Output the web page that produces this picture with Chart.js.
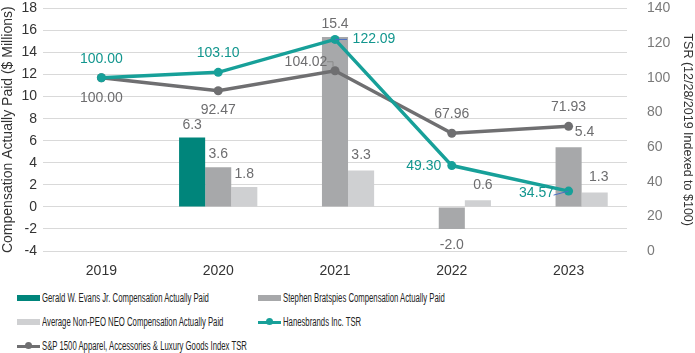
<!DOCTYPE html>
<html>
<head>
<meta charset="utf-8">
<script src="https://cdn.jsdelivr.net/npm/chart.js@4.4.1/dist/chart.umd.min.js"></script>
<style>
  body{margin:0;background:#fff;width:695px;height:353px;overflow:hidden;position:relative;font-family:"Liberation Sans",Arial,sans-serif;}
  #wrap{position:absolute;left:0;top:-12px;width:695px;height:292px;}
  #legend{position:absolute;left:0;top:286px;width:695px;height:67px;}
  .lg{position:absolute;height:14px;display:flex;align-items:center;font-size:12px;color:#222;white-space:nowrap;}
  .lg b{font-weight:normal;display:inline-block;transform:scaleX(0.645);transform-origin:left center;}
  .sw{width:23px;height:6px;margin-right:2px;position:relative;}
  .ln{width:23px;height:3px;margin-right:2px;position:relative;}
  .ln i{position:absolute;left:8px;top:-2.5px;width:7px;height:7px;border-radius:50%;}
</style>
</head>
<body>
<div id="wrap"><canvas id="chart" width="695" height="292"></canvas></div>
<div id="legend"></div>
<script>
// datos
const years = ['2019','2020','2021','2022','2023'];
const evansCAP = [null, 6.3, null, null, null];
const bratspiesCAP = [null, 3.6, 15.4, -2.0, 5.4];
const nonPeoCAP = [null, 1.8, 3.3, 0.6, 1.3];
const hbiTSR = [100.00, 103.10, 122.09, 49.30, 34.57];
const spTSR = [100.00, 92.47, 104.02, 67.96, 71.93];
const leftTicks = {min:-4, max:18, step:2};
const rightTicks = {min:0, max:140, step:20};

const teal = '#00857b', tealLine = '#17a099', grayBar = '#a7a8aa', lightBar = '#cfd0d2', grayLine = '#6f6f71';
const FONT = '"Liberation Sans", Arial, sans-serif';

// posicion de etiquetas (dx, dy en px respecto al punto)
const labelPos = {
  evans: [null,[0,-12],null,null,null],
  bratspies: [null,[0,-13],[0,-13],[0,16],[16,-15]],
  nonpeo: [null,[0,-13],[0,-15],[5,-15],[4,-15]],
  hbi: [[0,-19],[0,-19],[39,0],[-28,1],[-32,2]],
  sp: [[0,20],[0,19],[-29,-9],[0,-19],[0,-19]]
};
// lineas guia pequeñas (x1,y1,x2,y2 relativas al punto)
const leaders = {
  hbi: [null,null,[0,0,12,0],null,[-15,4,0,0]],
  sp: [null,null,[-8,-9,-2,-9],null,null]
};

const valueLabels = {
  id:'valueLabels',
  afterDatasetsDraw(chart){
    const ctx = chart.ctx;
    ctx.save();
    ctx.font = '14px '+FONT;
    ctx.textAlign='center'; ctx.textBaseline='middle';
    chart.data.datasets.forEach((ds,i)=>{
      const meta = chart.getDatasetMeta(i);
      meta.data.forEach((el,j)=>{
        const v = ds.data[j];
        if(v===null || v===undefined) return;
        const off = labelPos[ds.key][j];
        const ld = leaders[ds.key] && leaders[ds.key][j];
        if(ld){
          ctx.strokeStyle = ds.key==='hbi' ? '#4a6fc4' : '#8a8a8a';
          ctx.lineWidth = 1;
          ctx.beginPath(); ctx.moveTo(el.x+ld[0], el.y+ld[1]); ctx.lineTo(el.x+ld[2], el.y+ld[3]);
          if(ds.key==='sp') ctx.lineTo(el.x+ld[2], el.y+ld[3]+5);
          ctx.stroke();
        }
        ctx.fillStyle = ds.labelColor;
        ctx.fillText(v.toFixed(ds.decimals), el.x+off[0], el.y+off[1]);
      });
    });
    ctx.restore();
  }
};

const datasets = [
  {key:'hbi',type:'line',label:'Hanesbrands Inc. TSR',data:hbiTSR,yAxisID:'y1',borderColor:tealLine,backgroundColor:tealLine,borderWidth:3.5,pointRadius:4.5,pointBackgroundColor:tealLine,pointBorderWidth:0,labelColor:'#12968e',decimals:2,order:1},
  {key:'sp',type:'line',label:'S&P 1500 Apparel, Accessories & Luxury Goods Index TSR',data:spTSR,yAxisID:'y1',borderColor:grayLine,backgroundColor:grayLine,borderWidth:3.5,pointRadius:4.5,pointBackgroundColor:grayLine,pointBorderWidth:0,labelColor:'#6d6d6f',decimals:2,order:2},
  {key:'evans',type:'bar',label:'Gerald W. Evans Jr. Compensation Actually Paid',data:evansCAP,yAxisID:'y',backgroundColor:teal,labelColor:'#6d6d6f',decimals:1,order:3},
  {key:'bratspies',type:'bar',label:'Stephen Bratspies Compensation Actually Paid',data:bratspiesCAP,yAxisID:'y',backgroundColor:grayBar,labelColor:'#6d6d6f',decimals:1,order:4},
  {key:'nonpeo',type:'bar',label:'Average Non-PEO NEO Compensation Actually Paid',data:nonPeoCAP,yAxisID:'y',backgroundColor:lightBar,labelColor:'#6d6d6f',decimals:1,order:5}
];

new Chart(document.getElementById('chart'),{
  data:{labels:years,datasets:datasets},
  options:{
    responsive:false,animation:false,
    layout:{padding:{top:0,left:0,right:0,bottom:0}},
    datasets:{bar:{categoryPercentage:0.67,barPercentage:1.0}},
    plugins:{legend:{display:false},tooltip:{enabled:false}},
    scales:{
      x:{grid:{display:false},border:{display:false},
         ticks:{color:'#333',font:{family:FONT,size:14},padding:4},
         afterFit(s){s.height=29;}},
      y:{position:'left',min:leftTicks.min,max:leftTicks.max,
         ticks:{stepSize:leftTicks.step,color:'#333',font:{family:FONT,size:14},padding:6},
         grid:{color:'#d9d9d9',lineWidth:1,drawTicks:false},border:{display:false},
         title:{display:true,text:'Compensation Actually Paid ($ Millions)',color:'#333',font:{family:FONT,size:14},padding:0},
         afterFit(s){s.width=43;}},
      y1:{position:'right',min:rightTicks.min,max:rightTicks.max,
         ticks:{stepSize:rightTicks.step,color:'#7a7a7a',font:{family:FONT,size:14},padding:12},
         grid:{display:false},border:{display:false},
         title:{display:true,text:'TSR (12/28/2019 Indexed to $100)',color:'#333',font:{family:FONT,size:12.5},padding:{top:0,bottom:4}},
         afterFit(s){s.width=68;}}
    }
  },
  plugins:[valueLabels]
});

// leyenda en dos columnas
const legendOrder = [
  [datasets[2],17,298],[datasets[3],258,298],
  [datasets[4],17,322],[datasets[0],258,322],
  [datasets[1],17,346]
];
const lg = document.getElementById('legend');
legendOrder.forEach(([ds,x,y])=>{
  const d = document.createElement('div');
  d.className='lg';
  d.style.left = x+'px'; d.style.top = (y-286-7)+'px';
  const txt = ds.label.replace(/&/g,'&amp;');
  if(ds.type==='bar') d.innerHTML = `<span class="sw" style="background:${ds.backgroundColor}"></span><b>${txt}</b>`;
  else d.innerHTML = `<span class="ln" style="background:${ds.borderColor}"><i style="background:${ds.borderColor}"></i></span><b>${txt}</b>`;
  lg.appendChild(d);
});
</script>
</body>
</html>
